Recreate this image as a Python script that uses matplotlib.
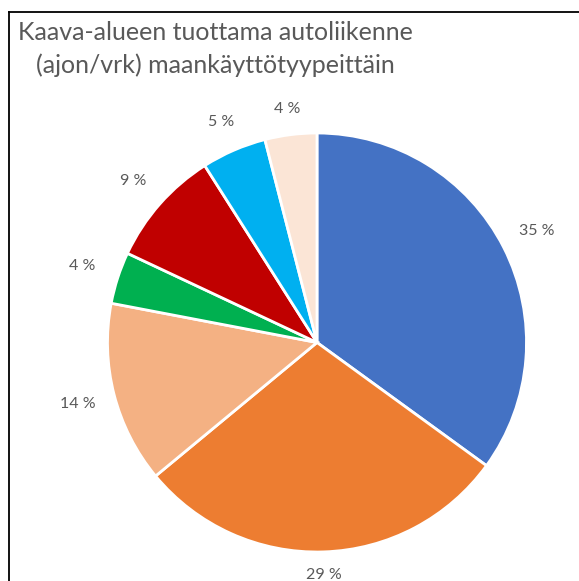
import numpy as np
import matplotlib
matplotlib.use("Agg")
import matplotlib.pyplot as plt
from matplotlib.lines import Line2D

# Traffic share by land-use type (percent)
shares = [35, 29, 14, 4, 9, 5, 4]
colors = ["#4472C4", "#ED7D31", "#F4B183", "#00B050", "#C00000", "#00B0F0", "#FBE5D6"]
title = "Kaava-alueen tuottama autoliikenne\n(ajon/vrk) maankäyttötyypeittäin"

W, H = 579, 581
fig = plt.figure(figsize=(W / 100, H / 100), dpi=100)
fig.patch.set_facecolor("white")

# pie placement in pixels
cx, cy, r = 317, 342.5, 209.5
ax = fig.add_axes([(cx - r) / W, (H - cy - r) / H, 2 * r / W, 2 * r / H])
ax.set_xlim(-1, 1)
ax.set_ylim(-1, 1)
ax.set_aspect("equal")
ax.axis("off")

wedges, _ = ax.pie(shares, colors=colors, startangle=90, counterclock=False,
                   radius=1, wedgeprops=dict(edgecolor="white", linewidth=2),
                   frame=False)
ax.set_xlim(-1, 1)
ax.set_ylim(-1, 1)

font = "Lato"
for w, v in zip(wedges, shares):
    ang = np.deg2rad((w.theta1 + w.theta2) / 2)
    d = 1.095 + 0.085 * np.sqrt(abs(np.cos(ang)))
    ax.text(d * np.cos(ang), d * np.sin(ang), f"{v} %", ha="center", va="center",
            fontsize=11.5, color="#595959", family=font, clip_on=False)

fig.text(215 / W, 1 - 49 / H, title, ha="center", va="center", fontsize=18,
         color="#595959", family=font, linespacing=1.5)

# outer frame (left and top edges)
fig.add_artist(Line2D([8.5 / W, 8.5 / W], [0, 1 - 12 / H], color="black", lw=1.3,
                      transform=fig.transFigure))
fig.add_artist(Line2D([8.5 / W, 1], [1 - 12 / H, 1 - 12 / H], color="black", lw=1.3,
                      transform=fig.transFigure))

fig.savefig("out.png", dpi=100)
